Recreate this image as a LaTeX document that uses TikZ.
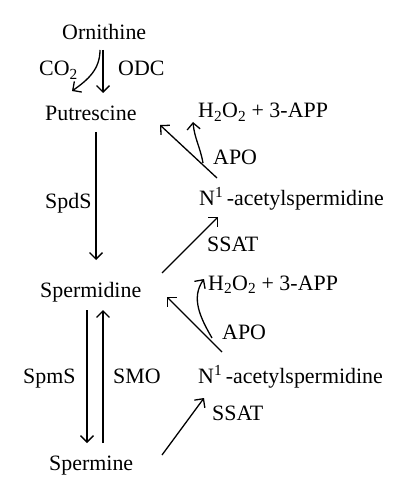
\documentclass[tikz,border=0pt]{standalone}
\usepackage{fontspec}
\setmainfont{Liberation Serif}
\usetikzlibrary{arrows.meta}

\begin{document}
\begin{tikzpicture}[x=1bp,y=-1bp,
  lbl/.style={anchor=base west,inner sep=0pt,font=\fontsize{22}{26}\selectfont},
  rx/.style={-{Straight Barb[length=6.5bp,width=13bp]},line width=1.3bp}]

\useasboundingbox (0,0) rectangle (408,500);
  \node[lbl] (orn) at (62,40) {Ornithine};
  \node[lbl] (co) at (39,76) {CO\textsubscript{2}};
  \node[lbl] (odc) at (118,76) {ODC};
  \node[lbl] (put) at (45,121) {Putrescine};
  \node[lbl] (spds) at (45,208) {SpdS};
  \node[lbl] (spd) at (40,297) {Spermidine};
  \node[lbl] (spms) at (23,383) {SpmS};
  \node[lbl] (smo) at (113,383) {SMO};
  \node[lbl] (spm) at (49,470) {Spermine};
  \node[lbl] (h1) at (198,118) {H\textsubscript{2}O\textsubscript{2} + 3-APP};
  \node[lbl] (apo1) at (213,165) {APO};
  \node[lbl] (nu) at (199,205) {N\textsuperscript{1}\,-acetylspermidine};
  \node[lbl] (ssat1) at (207,251) {SSAT};
  \node[lbl] (h2) at (208,290) {H\textsubscript{2}O\textsubscript{2} + 3-APP};
  \node[lbl] (apo2) at (222,339) {APO};
  \node[lbl] (nl) at (198,383) {N\textsuperscript{1}\,-acetylspermidine};
  \node[lbl] (ssat2) at (212,420) {SSAT};
  \draw[rx] ([shift={(41,10)}]orn.base west) -- ([shift={(58,-28)}]put.base west);
  \draw[rx] ([shift={(38,10)}]orn.base west) to[out=-90,in=35] ([shift={(27,-30)}]put.base west);
  \draw[rx] ([shift={(51,11)}]put.base west) -- ([shift={(56,-37)}]spd.base west);
  \draw[rx] ([shift={(47,13)}]spd.base west) -- ([shift={(38,-27)}]spm.base west);
  \draw[rx] ([shift={(54,-27)}]spm.base west) -- ([shift={(63,13)}]spd.base west);
  \draw[rx] ([shift={(122,-24)}]spd.base west) -- ([shift={(19,12)}]nu.base west);
  \draw[rx] ([shift={(18,-27)}]nu.base west) -- ([shift={(115,4)}]put.base west);
  \draw[rx] ([shift={(4,-42)}]nu.base west) to[out=100,in=-85] ([shift={(-5,4)}]h1.base west);
  \draw[rx] ([shift={(113,-15)}]spm.base west) -- ([shift={(6,15)}]nl.base west);
  \draw[rx] ([shift={(24,-31)}]nl.base west) -- ([shift={(127,0)}]spd.base west);
  \draw[rx] ([shift={(14,-45)}]nl.base west) to[out=120,in=235] ([shift={(-4,-11)}]h2.base west);
 \end{tikzpicture}
\end{document}
